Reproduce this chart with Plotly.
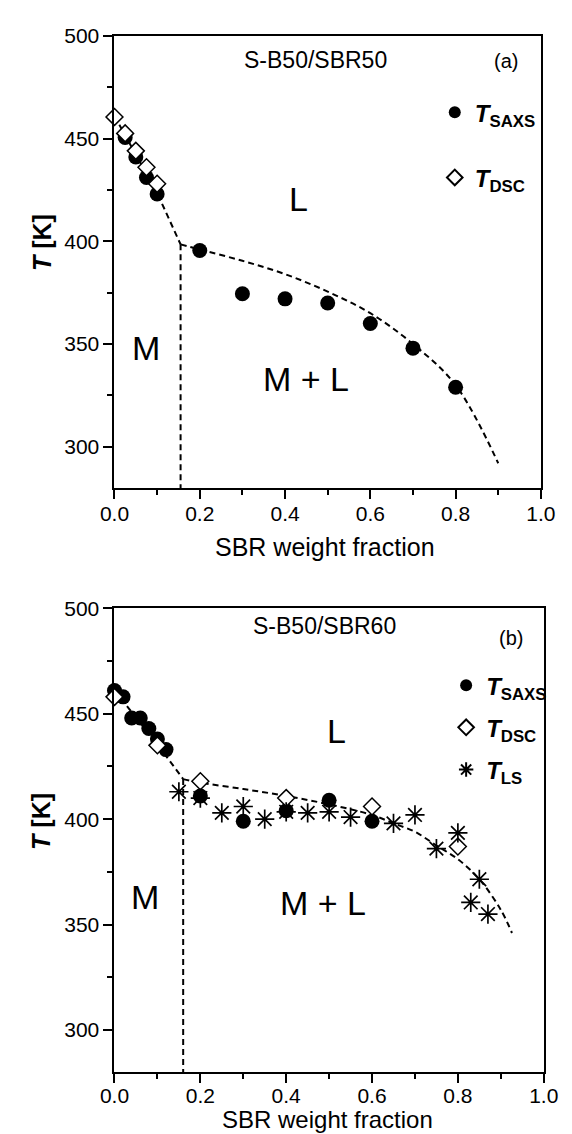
import plotly.graph_objects as go

FONT = "Liberation Sans, Arial, sans-serif"
W, H = 572, 1134

# ---------------- panel (a): S-B50/SBR50 ----------------
a_saxs_x = [0.025, 0.05, 0.075, 0.10, 0.20, 0.30, 0.40, 0.50, 0.60, 0.70, 0.80]
a_saxs_T = [450.5, 441, 431, 423, 395.5, 374.5, 372, 370, 360, 348, 329]
a_dsc_x = [0.0, 0.025, 0.05, 0.075, 0.10]
a_dsc_T = [460.5, 452.5, 444, 436, 428]

# guide-to-the-eye boundaries (dashed)
a_left_x = [0.0, 0.10, 0.155]
a_left_T = [461, 423.5, 398.5]
a_curve_x = [0.155, 0.20, 0.30, 0.40, 0.50, 0.60, 0.70, 0.80, 0.90]
a_curve_T = [398.5, 396, 390.5, 384, 375.5, 365, 350, 330, 292]
a_vert_x = [0.155, 0.155]
a_vert_T = [398.5, 280]

# ---------------- panel (b): S-B50/SBR60 ----------------
b_saxs_x = [0.0, 0.02, 0.04, 0.06, 0.08, 0.10, 0.12, 0.20, 0.30, 0.40, 0.50, 0.60]
b_saxs_T = [461, 458, 448, 448, 443, 438, 433, 411, 399, 404, 409, 399]
b_dsc_x = [0.0, 0.10, 0.20, 0.40, 0.60, 0.80]
b_dsc_T = [458, 435, 418, 410, 406, 387]
b_ls_x = [0.15, 0.20, 0.25, 0.30, 0.35, 0.40, 0.45, 0.50, 0.55, 0.65, 0.70, 0.75,
          0.80, 0.83, 0.85, 0.87]
b_ls_T = [413, 410, 403, 406, 400, 403.5, 403, 403.5, 401, 398, 402, 386,
          393.5, 360.5, 371.5, 355]

b_left_x = [0.0, 0.10, 0.16]
b_left_T = [461, 435.5, 419]
b_curve_x = [0.16, 0.20, 0.30, 0.40, 0.50, 0.60, 0.65, 0.70, 0.75, 0.80, 0.85, 0.90, 0.926]
b_curve_T = [419, 417.3, 414.3, 411, 407, 402, 398, 394, 387.5, 381, 371.5, 357, 346]
b_vert_x = [0.16, 0.16]
b_vert_T = [419, 280]

x_ticks = [0.0, 0.2, 0.4, 0.6, 0.8, 1.0]
y_ticks = [300, 350, 400, 450, 500]

LBL_SAXS = "<b><i>T</i></b><sub><b>SAXS</b></sub>"
LBL_DSC = "<b><i>T</i></b><sub><b>DSC</b></sub>"
LBL_LS = "<b><i>T</i></b><sub><b>LS</b></sub>"

fig = go.Figure()

dash_line = dict(color="black", width=2, dash="6px,4px")


def guide(x, y, xa, ya, shape="linear"):
    fig.add_trace(go.Scatter(x=x, y=y, mode="lines", line=dict(shape=shape, **dash_line),
                             xaxis=xa, yaxis=ya, showlegend=False, hoverinfo="skip"))


circle = dict(symbol="circle", size=15, color="black")
diamond = dict(symbol="diamond", size=13, color="white", line=dict(color="black", width=1.5))
star = dict(symbol="asterisk-open", size=16, color="black", line=dict(color="black", width=1.7))

# panel (a)
guide(a_left_x, a_left_T, "x", "y")
guide(a_curve_x, a_curve_T, "x", "y", "spline")
guide(a_vert_x, a_vert_T, "x", "y")
fig.add_trace(go.Scatter(x=a_saxs_x, y=a_saxs_T, mode="markers", marker=circle, name=LBL_SAXS,
                         xaxis="x", yaxis="y", legend="legend", legendgroup="a1", cliponaxis=False))
fig.add_trace(go.Scatter(x=a_dsc_x, y=a_dsc_T, mode="markers", marker=diamond, name=LBL_DSC,
                         xaxis="x", yaxis="y", legend="legend", legendgroup="a2", cliponaxis=False))

# panel (b)
guide(b_left_x, b_left_T, "x2", "y2")
guide(b_curve_x, b_curve_T, "x2", "y2", "spline")
guide(b_vert_x, b_vert_T, "x2", "y2")
fig.add_trace(go.Scatter(x=b_saxs_x, y=b_saxs_T, mode="markers", marker=circle, name=LBL_SAXS,
                         xaxis="x2", yaxis="y2", legend="legend2", legendgroup="b1", cliponaxis=False))
fig.add_trace(go.Scatter(x=b_dsc_x, y=b_dsc_T, mode="markers", marker=diamond, name=LBL_DSC,
                         xaxis="x2", yaxis="y2", legend="legend2", legendgroup="b2", cliponaxis=False))
fig.add_trace(go.Scatter(x=b_ls_x, y=b_ls_T, mode="markers", marker=star, name=LBL_LS,
                         xaxis="x2", yaxis="y2", legend="legend2", legendgroup="b3", cliponaxis=False))


def px_x(p):
    return p / W


def px_y(p):
    return 1 - p / H


axis_common = dict(showline=True, linecolor="black", linewidth=2, mirror=True,
                   ticks="outside", ticklen=9, tickwidth=2, tickcolor="black",
                   showgrid=False, zeroline=False,
                   tickfont=dict(family=FONT, size=21, color="black"))

xminor = dict(ticks="outside", ticklen=5, tickwidth=2, tickcolor="black", dtick=0.1, tick0=0)
xa = dict(axis_common, range=[0, 1.0], tickvals=x_ticks, tickformat=".1f", minor=xminor)
ya = dict(axis_common, range=[280, 500], tickvals=y_ticks,
          minor=dict(ticks="outside", ticklen=5, tickwidth=2, tickcolor="black", dtick=25, tick0=300))

fig.update_layout(
    width=W, height=H, margin=dict(l=0, r=0, t=0, b=0),
    paper_bgcolor="white", plot_bgcolor="white",
    font=dict(family=FONT, color="black"),
    xaxis=dict(xa, domain=[px_x(105), px_x(555)], anchor="y", ticklabelstandoff=-3),
    yaxis=dict(ya, domain=[px_y(481), px_y(24)], anchor="x"),
    xaxis2=dict(xa, domain=[px_x(105), px_x(558)], anchor="y2", ticklabelstandoff=-5),
    yaxis2=dict(ya, domain=[px_y(1071.5), px_y(602.7)], anchor="x2"),
    legend=dict(x=px_x(443), y=px_y(79), xanchor="left", yanchor="top",
                bgcolor="rgba(0,0,0,0)", font=dict(family=FONT, size=24),
                itemsizing="constant", tracegroupgap=31, traceorder="grouped"),
    legend2=dict(x=px_x(455), y=px_y(658), xanchor="left", yanchor="top",
                 bgcolor="rgba(0,0,0,0)", font=dict(family=FONT, size=24),
                 itemsizing="constant", tracegroupgap=8, traceorder="grouped"),
    showlegend=True,
)

ann = []


def text(x, y, s, size, xref="x", yref="y", **kw):
    ann.append(dict(x=x, y=y, xref=xref, yref=yref, text=s, showarrow=False,
                    xanchor="center", yanchor="middle",
                    font=dict(family=FONT, size=size, color="black"), **kw))


# panel (a) labels
text(0.471, 488.4, "S-B50/SBR50", 23)
text(0.918, 487.5, "(a)", 20)
text(0.431, 420.5, "L", 34)
text(0.073, 348, "M", 34)
text(0.449, 333, "M + L", 34)
# panel (b) labels
text(0.49, 491.4, "S-B50/SBR60", 23, xref="x2", yref="y2")
text(0.923, 486, "(b)", 20, xref="x2", yref="y2")
text(0.518, 441.6, "L", 34, xref="x2", yref="y2")
text(0.072, 363, "M", 34, xref="x2", yref="y2")
text(0.485, 360, "M + L", 34, xref="x2", yref="y2")

# axis titles
for yc in (233, 818):
    text(px_x(28), px_y(yc), "<b><i>T</i> [K]</b>", 25, xref="paper", yref="paper", textangle=-90)
text(px_x(327), px_y(541), "SBR weight fraction", 25, xref="paper", yref="paper")
text(px_x(330), px_y(1119), "SBR weight fraction", 24, xref="paper", yref="paper")

fig.update_layout(annotations=ann)
fig.write_html("out.html")
